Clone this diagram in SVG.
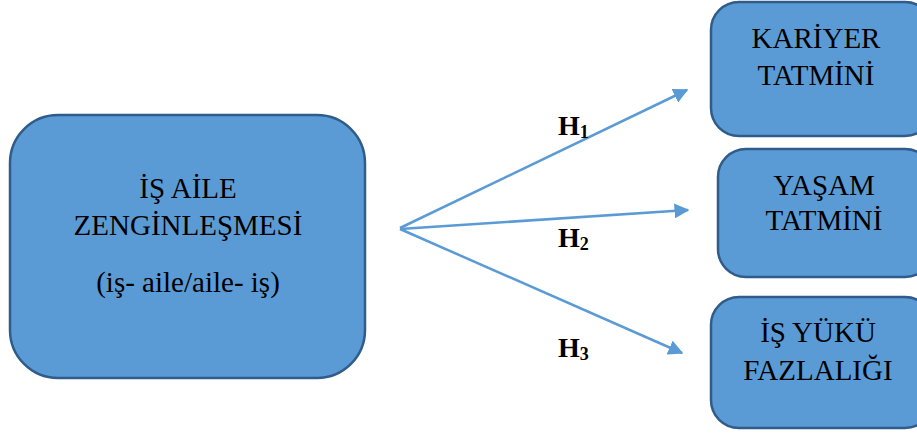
<svg xmlns="http://www.w3.org/2000/svg" width="917" height="435" viewBox="0 0 917 435">
<style>
.box{fill:#5B9BD5;stroke:#2F5C8A;stroke-width:2.5}
.t{font-family:"Liberation Serif","Times New Roman",serif;font-size:29px;fill:#000;text-anchor:middle}
.h{font-family:"Liberation Serif","Times New Roman",serif;font-size:28px;font-weight:bold;fill:#000}
.c{stroke:#5B9BD5;stroke-width:2.5;fill:none}
</style>
<defs>
<marker id="ah" viewBox="0 0 10 10" refX="9" refY="5" markerWidth="6" markerHeight="6" orient="auto" markerUnits="strokeWidth">
<path d="M0,0 L10,5 L0,10 z" fill="#5B9BD5"/>
</marker>
</defs>
<rect width="917" height="435" fill="#fff"/>
<g id="node-main">
<rect class="box" x="10" y="115" width="355" height="263" rx="48"/>
<text class="t" x="188" y="198">İŞ AİLE</text>
<text class="t" x="188" y="235">ZENGİNLEŞMESİ</text>
<text class="t" x="188" y="292">(iş- aile/aile- iş)</text>
</g>
<g id="node-kariyer">
<rect class="box" x="711" y="2" width="222" height="134" rx="28"/>
<text class="t" x="816" y="48">KARİYER</text>
<text class="t" x="816" y="85">TATMİNİ</text>
</g>
<g id="node-yasam">
<rect class="box" x="718" y="149" width="215" height="128" rx="28"/>
<text class="t" x="824" y="195">YAŞAM</text>
<text class="t" x="824" y="230">TATMİNİ</text>
</g>
<g id="node-isyuku">
<rect class="box" x="711" y="297" width="222" height="131" rx="28"/>
<text class="t" x="818" y="342">İŞ YÜKÜ</text>
<text class="t" x="818" y="380">FAZLALIĞI</text>
</g>
<g id="connectors">
<line class="c" x1="400" y1="228" x2="687" y2="90" marker-end="url(#ah)"/>
<line class="c" x1="400" y1="229" x2="688" y2="210" marker-end="url(#ah)"/>
<line class="c" x1="400" y1="229" x2="682" y2="353" marker-end="url(#ah)"/>
<text class="h" x="558" y="135">H<tspan font-size="18" dy="3">1</tspan></text>
<text class="h" x="558" y="247">H<tspan font-size="18" dy="3">2</tspan></text>
<text class="h" x="558" y="357">H<tspan font-size="18" dy="3">3</tspan></text>
</g>
</svg>
